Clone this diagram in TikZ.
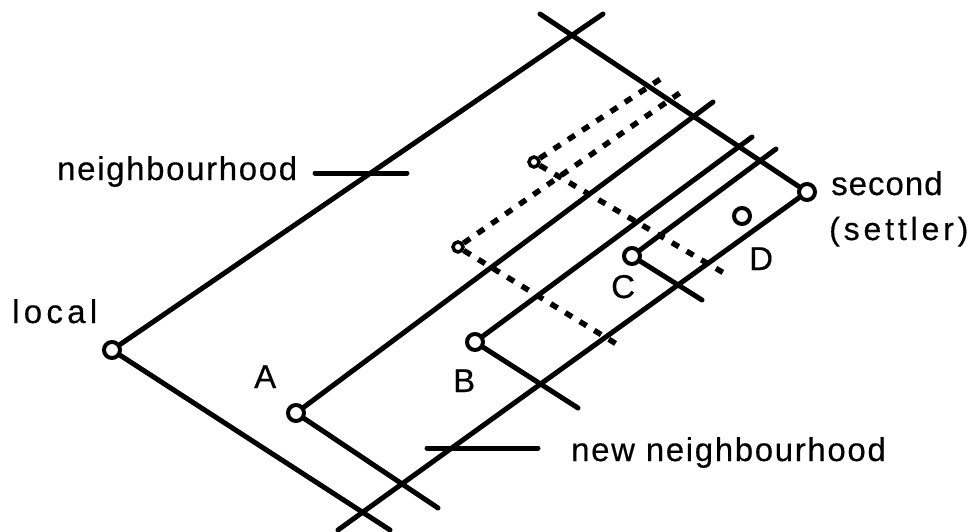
\documentclass[tikz,border=0pt]{standalone}
\usepackage{fontspec}
\setmainfont{Liberation Sans}
\begin{document}
\begin{tikzpicture}[x=1pt,y=-1pt,
  solid line/.style={line width=5pt,line cap=round},
  dot line/.style={line width=5.5pt,dash pattern=on 8pt off 9pt},
  bigcirc/.style={circle,draw,line width=4pt,minimum size=16pt,inner sep=0pt,fill=white},
  smallcirc/.style={circle,draw,line width=3.5pt,minimum size=10pt,inner sep=0pt,fill=white},
  lbl/.style={anchor=base west,inner sep=0pt,font=\fontsize{33}{40}\selectfont\addfontfeature{FakeBold=0.4,LetterSpace=5}}
]
\useasboundingbox (0,0) rectangle (977,532);
% circle nodes
\node[bigcirc] (local) at (112,350) {};
\node[bigcirc] (A) at (296,413) {};
\node[bigcirc] (B) at (475,342) {};
\node[bigcirc] (C) at (632,256) {};
\node[bigcirc] (D) at (742,216) {};
\node[bigcirc] (second) at (807,192) {};
\node[smallcirc] (p1) at (534,162) {};
\node[smallcirc] (p2) at (458,247) {};
% free ends
\coordinate (t1) at (603,14);
\coordinate (t2) at (540,14);
\coordinate (b1) at (390,530);
\coordinate (b2) at (338,530);
\coordinate (a1) at (713,102);
\coordinate (a2) at (438,508);
\coordinate (bb1) at (752,137);
\coordinate (bb2) at (578,408);
\coordinate (c1) at (776,149);
\coordinate (c2) at (702,300);
\coordinate (n1) at (315,173);
\coordinate (n2) at (407,173);
\coordinate (m1) at (427,448);
\coordinate (m2) at (538,448);
\coordinate (d1) at (665,76);
\coordinate (d2) at (729,276);
\coordinate (d3) at (684,90);
\coordinate (d4) at (623,348);
% solid lines
\draw[solid line] (local) -- (t1);
\draw[solid line] (t2) -- (second);
\draw[solid line] (local) -- (b1);
\draw[solid line] (A) -- (a1);
\draw[solid line] (A) -- (a2);
\draw[solid line] (second) -- (b2);
\draw[solid line] (B) -- (bb1);
\draw[solid line] (B) -- (bb2);
\draw[solid line] (C) -- (c1);
\draw[solid line] (C) -- (c2);
\draw[solid line] (n1) -- (n2);
\draw[solid line] (m1) -- (m2);
% dotted lines
\draw[dot line] (p1) -- (d1);
\draw[dot line] (p1) -- (d2);
\draw[dot line] (p2) -- (d3);
\draw[dot line] (p2) -- (d4);
% labels
\node[lbl] (lneigh) at (57,180) {neighbourhood};
\node[lbl,font=\fontsize{33}{40}\selectfont\addfontfeature{FakeBold=0.4,LetterSpace=13}] (llocal) at (12,323) {local};
\node[lbl] (lA) at (254,388) {A};
\node[lbl] (lB) at (453,392) {B};
\node[lbl] (lC) at (611,298) {C};
\node[lbl] (lD) at (749,270) {D};
\node[lbl,font=\fontsize{33}{40}\selectfont\addfontfeature{FakeBold=0.4,LetterSpace=3}] (lsecond) at (831,195) {second};
\node[lbl,font=\fontsize{32}{40}\selectfont\addfontfeature{FakeBold=0.4,LetterSpace=12}] (lsettler) at (829,240) {(settler)};
\node[lbl] (lnew) at (571,461) {new neighbourhood};
\end{tikzpicture}
\end{document}
